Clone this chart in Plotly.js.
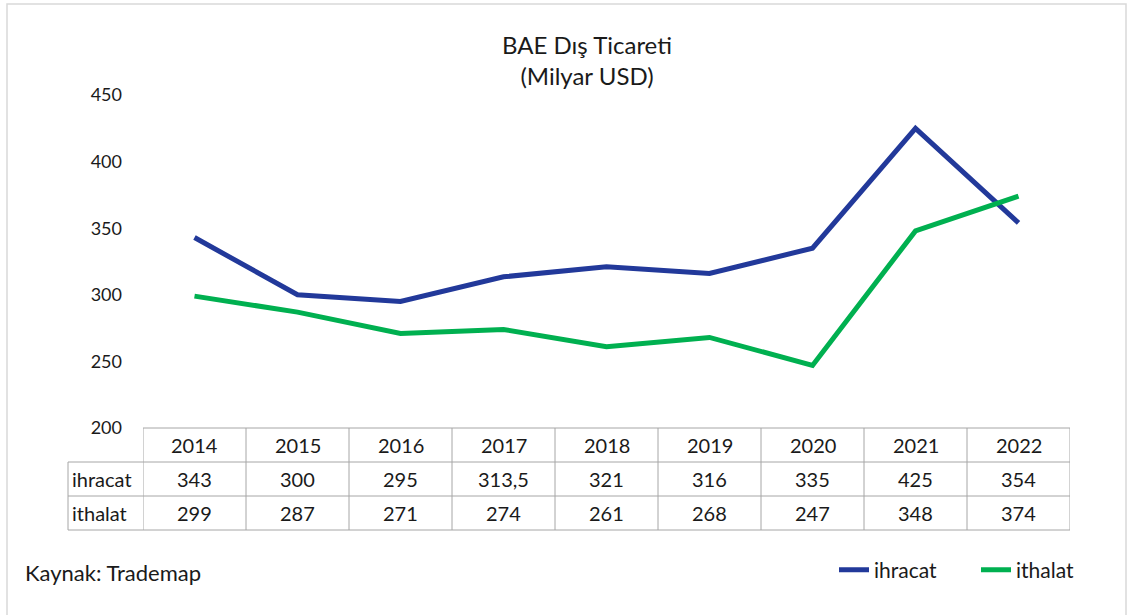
<!DOCTYPE html>
<html>
<head>
<meta charset="utf-8">
<script src="https://cdn.plot.ly/plotly-3.0.1.min.js"></script>
<style>
  html, body { margin: 0; padding: 0; background: #fff; }
  #chart { width: 1134px; height: 615px; }
</style>
</head>
<body>
<div id="chart"></div>
<script>
var years = ["2014", "2015", "2016", "2017", "2018", "2019", "2020", "2021", "2022"];
var ihracat = [343, 300, 295, 313.5, 321, 316, 335, 425, 354];
var ithalat = [299, 287, 271, 274, 261, 268, 247, 348, 374];
var seriesNames = ["ihracat", "ithalat"];
var seriesColors = ["#22399a", "#00b050"];
var yTicks = [200, 250, 300, 350, 400, 450];

var FONT = "Lato, 'Liberation Sans', sans-serif";
var TEXT_COLOR = "#1a1a1a";
var GRID_COLOR = "#a6a6a6";

// plot area is 333 px tall; table rows are 34 px each
var rowH = 34 / 333;

var formatValue = function(v) {
  return String(v).replace(".", ",");
};

var lineTrace = function(name, values, color, legendId) {
  return {
    type: "scatter",
    mode: "lines",
    name: name,
    x: years,
    y: values,
    legend: legendId,
    line: { color: color, width: 5 },
    hoverinfo: "x+y+name"
  };
};

var data = [
  lineTrace(seriesNames[0], ihracat, seriesColors[0], "legend"),
  lineTrace(seriesNames[1], ithalat, seriesColors[1], "legend2")
];

// data table under the plot
var shapes = [];
var annotations = [];

var hline = function(x0, x1, y, xref) {
  shapes.push({ type: "line", xref: xref, yref: "paper", x0: x0, x1: x1, y0: y, y1: y,
    line: { color: GRID_COLOR, width: 1 } });
};
var vline = function(x, y0, y1, xref) {
  shapes.push({ type: "line", xref: xref, yref: "paper", x0: x, x1: x, y0: y0, y1: y1,
    line: { color: GRID_COLOR, width: 1 } });
};

hline(-0.5, years.length - 0.5, 0, "x");
for (var r = 1; r <= 3; r++) {
  hline(-75 / 927, 1, -r * rowH, "paper");
}
for (var c = 0; c <= years.length; c++) {
  vline(c - 0.5, 0, -3 * rowH, "x");
}
vline(-75 / 927, -rowH, -3 * rowH, "paper");

var cellText = function(x, y, text, xref, xanchor) {
  annotations.push({ xref: xref, yref: "paper", x: x, y: y, text: text, showarrow: false,
    xanchor: xanchor || "center", yanchor: "middle",
    font: { family: FONT, size: 20, color: TEXT_COLOR } });
};

years.forEach(function(yr, i) {
  cellText(i, -0.5 * rowH, yr, "x");
  cellText(i, -1.5 * rowH, formatValue(ihracat[i]), "x");
  cellText(i, -2.5 * rowH, formatValue(ithalat[i]), "x");
});
cellText(-73 / 927, -1.5 * rowH, seriesNames[0], "paper", "left");
cellText(-73 / 927, -2.5 * rowH, seriesNames[1], "paper", "left");

// source note
annotations.push({ xref: "paper", yref: "paper", x: -120 / 927, y: -144 / 333,
  text: "Kaynak: Trademap", showarrow: false, xanchor: "left", yanchor: "middle",
  font: { family: FONT, size: 22, color: TEXT_COLOR } });

// outer chart border
shapes.push({ type: "rect", xref: "paper", yref: "paper",
  x0: -136 / 927, x1: 983 / 927, y0: -200 / 333, y1: 424 / 333,
  line: { color: "#d9d9d9", width: 1.5 } });

var legendBox = function(xpx) {
  return {
    orientation: "h",
    x: xpx / 1134,
    xref: "container",
    y: 1 - 570 / 615,
    yref: "container",
    xanchor: "left",
    yanchor: "middle",
    font: { family: FONT, size: 21, color: TEXT_COLOR },
    bgcolor: "rgba(0,0,0,0)"
  };
};

var layout = {
  width: 1134,
  height: 615,
  margin: { l: 143, r: 64, t: 95, b: 187 },
  paper_bgcolor: "#ffffff",
  plot_bgcolor: "#ffffff",
  font: { family: FONT, size: 18, color: TEXT_COLOR },
  title: {
    text: "BAE Dış Ticareti<br>(Milyar USD)",
    x: 587 / 1134,
    xanchor: "center",
    y: 1 - 54 / 615,
    yanchor: "middle",
    font: { family: FONT, size: 24, color: TEXT_COLOR }
  },
  xaxis: {
    type: "category",
    range: [-0.5, years.length - 0.5],
    showticklabels: false,
    showgrid: false,
    zeroline: false,
    showline: false,
    fixedrange: true
  },
  yaxis: {
    range: [200, 450],
    tickvals: yTicks,
    ticktext: yTicks.map(String),
    showgrid: false,
    zeroline: false,
    showline: false,
    ticks: "",
    ticklabelstandoff: 20,
    tickfont: { family: FONT, size: 18, color: TEXT_COLOR },
    fixedrange: true
  },
  showlegend: true,
  legend: legendBox(834),
  legend2: legendBox(976),
  shapes: shapes,
  annotations: annotations
};

Plotly.newPlot("chart", data, layout, { displaylogo: false, displayModeBar: false });
</script>
</body>
</html>
